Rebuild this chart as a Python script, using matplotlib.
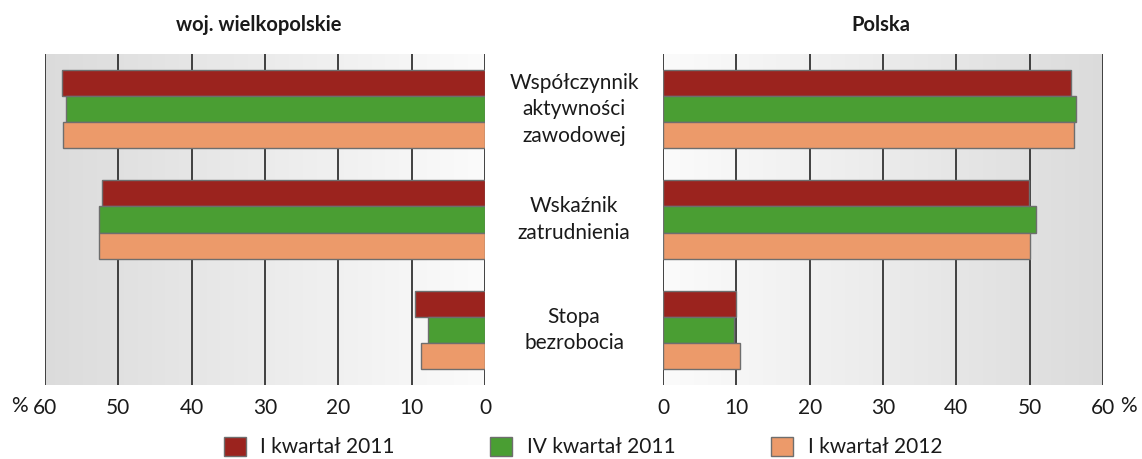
import numpy as np
import matplotlib.pyplot as plt
from matplotlib.patches import Patch
from matplotlib.transforms import blended_transform_factory, offset_copy

plt.rcParams['font.family'] = ['Lato', 'DejaVu Sans']

# dane
kategorie = ['Współczynnik\naktywności\nzawodowej', 'Wskaźnik\nzatrudnienia', 'Stopa\nbezrobocia']
serie = ['I kwartał 2011', 'IV kwartał 2011', 'I kwartał 2012']
wlkp = [[57.7, 52.2, 9.6],   # I kw 2011
        [57.1, 52.7, 7.8],   # IV kw 2011
        [57.6, 52.7, 8.7]]   # I kw 2012
polska = [[55.6, 49.9, 10.0],
          [56.3, 50.8, 9.7],
          [56.0, 50.0, 10.5]]
ticki = [0, 10, 20, 30, 40, 50, 60]
kolory = ['#9B231E', '#4A9E33', '#EC9A6A']

W, H = 1142, 459
fig = plt.figure(figsize=(W / 100, H / 100), dpi=100)
ax_l = fig.add_axes([45 / W, 1 - 385 / H, 440 / W, 331 / H])
ax_r = fig.add_axes([663 / W, 1 - 385 / H, 440 / W, 331 / H])

y = np.arange(len(kategorie))
bw = 0.236

for ax, dane in [(ax_l, wlkp), (ax_r, polska)]:
    # tlo z gradientem (szare przy 60, biale przy 0)
    g = np.linspace(0.985, 0.86, 256).reshape(1, -1)
    ax.imshow(np.dstack([g, g, g]), extent=[0, 60, 2.5, -0.5], aspect='auto', zorder=0)
    for i, s in enumerate(dane):
        ax.barh(y + (i - 1) * bw, s, height=bw, color=kolory[i],
                edgecolor='#6e6e6e', linewidth=1, zorder=3)
    for t in ticki:
        ax.axvline(t, color='#333333', lw=1.3, zorder=2)
    ax.set_xlim(0, 60)
    ax.set_ylim(2.5, -0.5)
    ax.set_yticks([])
    ax.set_xticks(ticki)
    ax.set_xticklabels([str(t) for t in ticki], fontsize=15, color='#1a1a1a')
    ax.tick_params(axis='x', length=0, pad=9)
    for sp in ax.spines.values():
        sp.set_visible(False)

ax_l.invert_xaxis()

# znaki procentu przy 60
tr = blended_transform_factory(ax_l.transData, ax_l.transAxes)
ax_l.text(60, -0.062, '%', transform=offset_copy(tr, fig=fig, x=-17, y=0, units='dots'),
          ha='right', va='center', fontsize=15, color='#1a1a1a')
tr = blended_transform_factory(ax_r.transData, ax_r.transAxes)
ax_r.text(60, -0.062, '%', transform=offset_copy(tr, fig=fig, x=17, y=0, units='dots'),
          ha='left', va='center', fontsize=15, color='#1a1a1a')

# etykiety kategorii w srodku
tr = blended_transform_factory(fig.transFigure, ax_l.transData)
for k, lab in zip(y, kategorie):
    ax_l.text(574 / W, k, lab, transform=tr, ha='center', va='center',
              fontsize=15, linespacing=1.4, color='#1a1a1a')

fig.text(259 / W, 1 - 25 / H, 'woj. wielkopolskie', ha='center', va='center',
         fontsize=14.5, fontweight='bold', color='#1a1a1a')
fig.text(881 / W, 1 - 25 / H, 'Polska', ha='center', va='center',
         fontsize=14.5, fontweight='bold', color='#1a1a1a')

uchwyty = [Patch(facecolor=c, edgecolor='#6e6e6e', linewidth=1) for c in kolory]
fig.legend(uchwyty, serie, loc='center', bbox_to_anchor=(583 / W, 1 - 447 / H),
           ncol=3, frameon=False, fontsize=15, handlelength=1.05, handleheight=1.05,
           columnspacing=4.6, handletextpad=0.7, labelcolor='#1a1a1a')

fig.savefig('out.png', dpi=100)
